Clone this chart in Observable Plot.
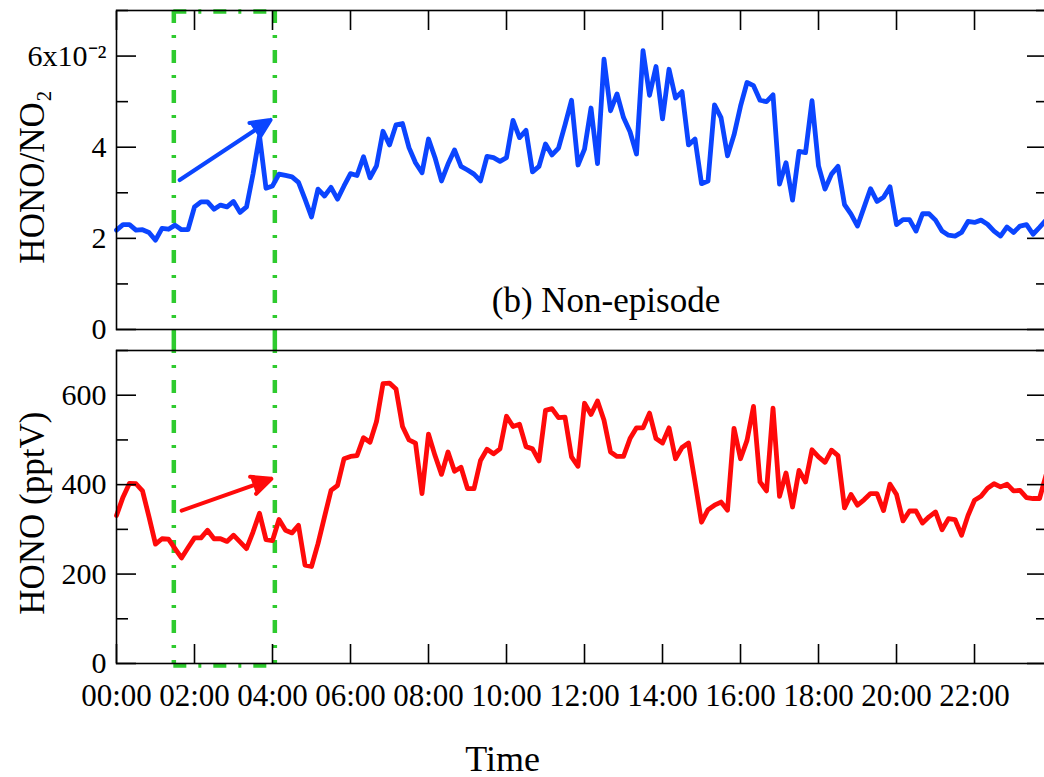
<!DOCTYPE html>
<html>
<head>
<meta charset="utf-8">
<script src="https://cdn.jsdelivr.net/npm/d3@7"></script>
<script src="https://cdn.jsdelivr.net/npm/@observablehq/plot@0.6"></script>
<style>
  html, body { margin: 0; padding: 0; background: #fff; overflow: hidden; }
  #chart svg { display: block; }
</style>
</head>
<body>
<div id="chart"></div>
<script>
// HONO/NO2 ratio (units of 10^-2), 10-minute means, 00:00 to 23:50
const honoNo2 = [
  2.18, 2.30, 2.30, 2.18, 2.19, 2.13, 1.96, 2.22, 2.20, 2.29, 2.19, 2.19,
  2.69, 2.80, 2.80, 2.64, 2.73, 2.69, 2.81, 2.57, 2.69, 3.41, 4.25, 3.10,
  3.15, 3.41, 3.38, 3.35, 3.23, 2.86, 2.47, 3.08, 2.93, 3.12, 2.86, 3.15,
  3.42, 3.38, 3.79, 3.33, 3.59, 4.35, 4.05, 4.49, 4.52, 3.99, 3.66, 3.44,
  4.18, 3.77, 3.26, 3.63, 3.94, 3.58, 3.50, 3.41, 3.26, 3.80, 3.77, 3.69,
  3.77, 4.59, 4.21, 4.37, 3.46, 3.58, 4.07, 3.83, 3.98, 4.49, 5.03, 3.61,
  3.96, 4.86, 3.64, 5.93, 4.80, 5.17, 4.65, 4.34, 3.85, 6.12, 5.14, 5.77,
  4.62, 5.71, 5.08, 5.22, 4.05, 4.18, 3.20, 3.26, 4.93, 4.65, 3.81, 4.27,
  4.90, 5.42, 5.35, 5.03, 5.00, 5.15, 3.19, 3.66, 2.84, 3.91, 3.88, 5.02,
  3.59, 3.08, 3.41, 3.58, 2.74, 2.53, 2.27, 2.68, 3.09, 2.81, 2.90, 3.13,
  2.30, 2.41, 2.41, 2.16, 2.54, 2.54, 2.40, 2.16, 2.07, 2.05, 2.13, 2.37,
  2.35, 2.40, 2.31, 2.16, 2.05, 2.25, 2.13, 2.27, 2.30, 2.09, 2.24, 2.40
];

// HONO mixing ratio (pptV), same 10-minute grid
const hono = [
  331, 372, 403, 402, 386, 328, 267, 279, 278, 257, 236, 259,
  281, 281, 298, 279, 279, 273, 287, 272, 257, 294, 336, 277,
  275, 322, 298, 292, 309, 220, 217, 268, 328, 387, 398, 458,
  463, 465, 505, 495, 541, 626, 627, 614, 530, 500, 493, 380,
  513, 465, 423, 473, 430, 439, 391, 391, 454, 479, 469, 480,
  553, 530, 535, 485, 480, 453, 566, 570, 550, 551, 462, 441,
  582, 557, 587, 544, 473, 463, 463, 503, 527, 527, 560, 503,
  493, 527, 458, 483, 493, 406, 316, 344, 354, 361, 343, 526,
  458, 499, 575, 406, 386, 571, 374, 426, 350, 432, 406, 478,
  462, 450, 477, 465, 348, 378, 354, 366, 380, 380, 342, 401,
  378, 319, 341, 341, 314, 328, 339, 299, 324, 322, 287, 331,
  365, 374, 392, 402, 395, 401, 386, 387, 371, 369, 369, 421
];

// Axis ticks and labels
const hourTicks = [0, 2, 4, 6, 8, 10, 12, 14, 16, 18, 20, 22];
const hourLabels = ["00:00", "02:00", "04:00", "06:00", "08:00", "10:00",
                    "12:00", "14:00", "16:00", "18:00", "20:00", "22:00"];
const ratioTicks = [0, 2, 4, 6];
const ratioLabels = ["0", "2", "4", "6x10\u207B\u00B2"];
const ratioMinor = [1, 3, 5, 7];
const honoTicks = [0, 200, 400, 600];
const honoLabels = ["0", "200", "400", "600"];
const honoMinor = [100, 300, 500, 700];

// Highlighted early-morning window (hours)
const windowHours = [1.47, 4.06];

// Annotation arrows
const ratioArrow = [{x1: 1.62, y1: 3.28, x2: 3.95, y2: 4.60}];
const honoArrow = [{x1: 1.67, y1: 342, x2: 3.97, y2: 413}];

const BLUE = "#0b45ff", RED = "#ff0a0a", GREEN = "#2ecb2e";
const FONT = "Liberation Serif, Times New Roman, serif";

const ratioRows = honoNo2.map((v, i) => ({hour: i / 6, value: v}));
const honoRows = hono.map((v, i) => ({hour: i / 6, value: v}));

const W = 1046, ML = 116, MR = 1;
const xScale = {type: "linear", domain: [0, 23.82]};
const boxStyle = {stroke: GREEN, strokeWidth: 4.5, strokeDasharray: "13,12,3,12"};
const axisStroke = {stroke: "black", strokeWidth: 1.6};
const lineStyle = {strokeWidth: 4.8, strokeLinejoin: "round", strokeLinecap: "round"};
const titleStyle = {fontSize: 35, fill: "black", textAnchor: "middle", lineAnchor: "middle"};

function yAxes(major, minor, labels) {
  const fmt = d => labels[major.indexOf(d)];
  return [
    Plot.axisY(major, {anchor: "left", tickSize: -20, fill: "none", ...axisStroke, label: null}),
    Plot.axisY(minor, {anchor: "left", tickSize: -12, fill: "none", ...axisStroke, label: null}),
    Plot.axisY(major, {anchor: "right", tickSize: -19, fill: "none", ...axisStroke, label: null}),
    Plot.axisY(minor, {anchor: "right", tickSize: -10, fill: "none", ...axisStroke, label: null}),
    Plot.axisY(major, {anchor: "left", tickSize: 0, tickPadding: 10, tickFormat: fmt, fill: "black", label: null})
  ];
}

const svgStyle = {fontFamily: FONT, fontSize: "30px", color: "black", background: "transparent",
                  maxWidth: "none", overflow: "visible"};

// Upper panel: HONO/NO2
const upperPanel = Plot.plot({
  width: W, height: 340,
  marginLeft: ML, marginRight: MR, marginTop: 10, marginBottom: 11,
  style: svgStyle,
  x: xScale,
  y: {domain: [0, 7]},
  marks: [
    Plot.ruleX(windowHours, {...boxStyle, insetBottom: -11}),
    Plot.ruleY([7], {x1: windowHours[0], x2: windowHours[1], ...boxStyle, dy: 1}),
    Plot.lineY(ratioRows, {x: "hour", y: "value", stroke: BLUE, ...lineStyle}),
    Plot.arrow(ratioArrow, {x1: "x1", y1: "y1", x2: "x2", y2: "y2", stroke: BLUE, fill: BLUE,
      strokeWidth: 4, headLength: 8, headAngle: 50}),
    Plot.text(["(b) Non-episode"], {x: () => 12.55, y: () => 0.63, ...titleStyle}),
    Plot.text(["HONO/NO\u2082"], {frameAnchor: "left", y: () => 3.35, dx: -84, rotate: -90, ...titleStyle}),
    Plot.frame(axisStroke),
    Plot.axisX(hourTicks, {anchor: "top", tickSize: -19, fill: "none", ...axisStroke, label: null}),
    ...yAxes(ratioTicks, ratioMinor, ratioLabels)
  ]
});

// Lower panel: HONO
const lowerPanel = Plot.plot({
  width: W, height: 437,
  marginLeft: ML, marginRight: MR, marginTop: 10, marginBottom: 114,
  style: svgStyle,
  x: xScale,
  y: {domain: [0, 700]},
  marks: [
    Plot.ruleX(windowHours, {...boxStyle, insetTop: -10}),
    Plot.ruleY([0], {x1: windowHours[0], x2: windowHours[1], ...boxStyle, dy: 2}),
    Plot.lineY(honoRows, {x: "hour", y: "value", stroke: RED, ...lineStyle}),
    Plot.arrow(honoArrow, {x1: "x1", y1: "y1", x2: "x2", y2: "y2", stroke: RED, fill: RED,
      strokeWidth: 4, headLength: 8, headAngle: 50}),
    Plot.text(["HONO (pptV)"], {frameAnchor: "left", y: () => 336, dx: -84, rotate: -90, ...titleStyle}),
    Plot.text(["Time"], {x: () => 9.9, frameAnchor: "bottom", dy: 96, ...titleStyle, fontSize: 36}),
    Plot.frame(axisStroke),
    Plot.axisX(hourTicks, {anchor: "bottom", tickSize: -19, fill: "none", ...axisStroke, label: null}),
    Plot.axisX(hourTicks, {anchor: "bottom", tickSize: 0, tickPadding: 20, fill: "black", fontSize: 31,
      tickFormat: d => hourLabels[hourTicks.indexOf(d)], label: null}),
    ...yAxes(honoTicks, honoMinor, honoLabels)
  ]
});

document.getElementById("chart").append(upperPanel, lowerPanel);
</script>
</body>
</html>
